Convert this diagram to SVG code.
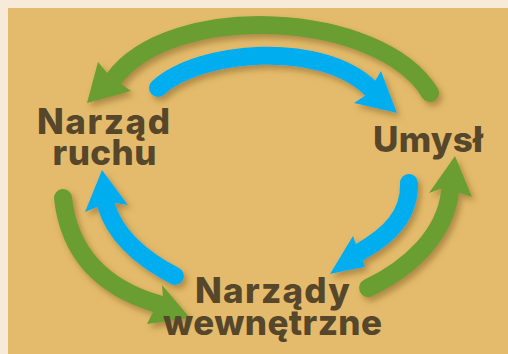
<svg xmlns="http://www.w3.org/2000/svg" width="508" height="354" viewBox="0 0 508 354">
  <defs>
    <filter id="shadow" x="-20%" y="-20%" width="140%" height="140%">
      <feDropShadow dx="3" dy="4" stdDeviation="3" flood-color="#6a4a18" flood-opacity="0.45"/>
    </filter>
  </defs>
  <style>
    .shaft { fill: none; stroke-width: 18; stroke-linecap: round; }
    .green .shaft { stroke: #6b9e30; }
    .green .head { fill: #6b9e30; }
    .blue .shaft { stroke: #00aeef; }
    .blue .head { fill: #00aeef; }
    .label { font-family: Inter, "Noto Sans", "DejaVu Sans", sans-serif; font-weight: 800; font-size: 35px; fill: #56472a; text-anchor: middle; }
  </style>

  <!-- page and panel -->
  <rect x="0" y="0" width="508" height="354" fill="#f7ead9"/>
  <rect x="8" y="8" width="500" height="346" fill="#e4bb6c"/>

  <!-- connectors -->
  <g id="connectors" filter="url(#shadow)">
    <!-- Umysł to Narząd ruchu (outer, top) -->
    <g class="green">
      <path class="shaft" d="M430,93 C380,10 170,0 113,80"/>
      <polygon class="head" points="87,103 98,62 108,74 121,84 131,91"/>
    </g>
    <!-- Narząd ruchu to Umysł (inner, top) -->
    <g class="blue">
      <path class="shaft" d="M158,88 C200,50 320,40 370,88"/>
      <polygon class="head" points="397,113 381,71 375,81 366,95 354,103"/>
    </g>
    <!-- Narządy wewnętrzne to Umysł (outer, right) -->
    <g class="green">
      <path class="shaft" d="M368,288 C410,268 445,235 450,192"/>
      <polygon class="head" points="455,156 472,197 460,193 440,189 429,193"/>
    </g>
    <!-- Umysł to Narządy wewnętrzne (inner, right) -->
    <g class="blue">
      <path class="shaft" d="M409,183 C410,215 390,235 360,252"/>
      <polygon class="head" points="330,274 353,236 357,247 362,257 365,267"/>
    </g>
    <!-- Narządy wewnętrzne to Narząd ruchu (inner, left) -->
    <g class="blue">
      <path class="shaft" d="M175,276 C140,258 115,235 106,205"/>
      <polygon class="head" points="102,170 128,205 115,203 97,207 85,212"/>
    </g>
    <!-- Narząd ruchu to Narządy wewnętrzne (outer, left) -->
    <g class="green">
      <path class="shaft" d="M63,198 C70,260 110,290 158,304"/>
      <polygon class="head" points="190,318 147,324 153,312 163,297 162,285"/>
    </g>
  </g>

  <!-- nodes -->
  <g id="narzad-ruchu">
    <text class="label" x="103.5" y="134" textLength="133" lengthAdjust="spacing">Narząd</text>
    <text class="label" x="104.5" y="165" textLength="104" lengthAdjust="spacing">ruchu</text>
  </g>
  <g id="umysl">
    <text class="label" x="428" y="152" textLength="110" lengthAdjust="spacing">Umysł</text>
  </g>
  <g id="narzady-wewnetrzne">
    <text class="label" x="272.5" y="303" textLength="155" lengthAdjust="spacing">Narządy</text>
    <text class="label" x="272.5" y="335" textLength="219" lengthAdjust="spacing">wewnętrzne</text>
  </g>
</svg>
